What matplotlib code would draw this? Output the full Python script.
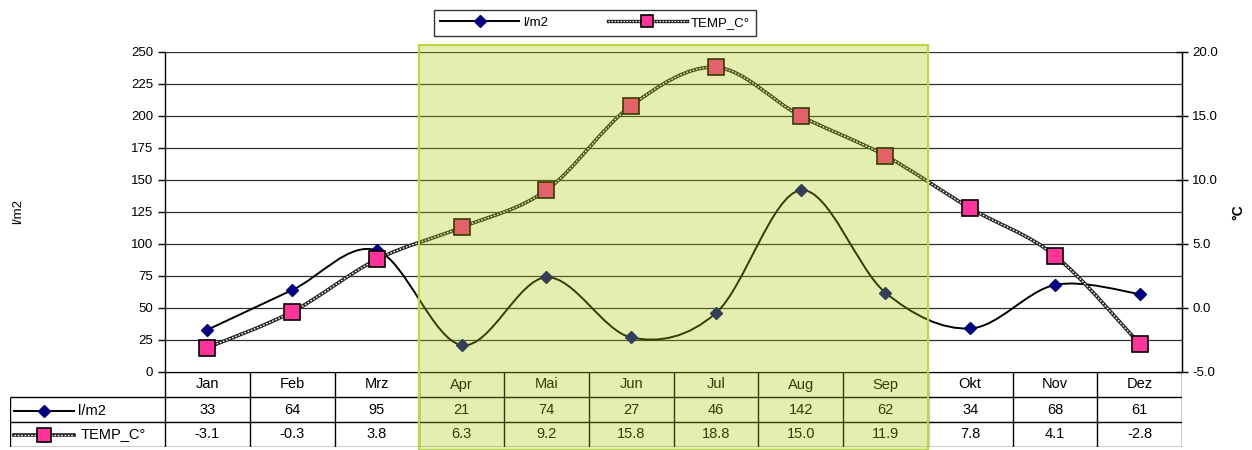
import numpy as np
import matplotlib.pyplot as plt
from matplotlib.path import Path
from matplotlib.patches import PathPatch, Rectangle
from matplotlib.lines import Line2D
from matplotlib.transforms import blended_transform_factory

plt.rcParams['font.family'] = ['Liberation Sans', 'DejaVu Sans']

## Data
months = ['Jan', 'Feb', 'Mrz', 'Apr', 'Mai', 'Jun', 'Jul', 'Aug', 'Sep', 'Okt', 'Nov', 'Dez']
rain = [33, 64, 95, 21, 74, 27, 46, 142, 62, 34, 68, 61]
temp = [-3.1, -0.3, 3.8, 6.3, 9.2, 15.8, 18.8, 15.0, 11.9, 7.8, 4.1, -2.8]
summer = (3, 8)   # Apr .. Sep highlighted

W, H = 1252, 450


def smooth_path(x, y):
    # Excel style smoothed line: cubic bezier with catmull-rom control points
    p = np.column_stack([x, y]).astype(float)
    ext = np.vstack([p[0], p, p[-1]])
    verts = [p[0]]
    codes = [Path.MOVETO]
    for i in range(len(p) - 1):
        a, b, c, d = ext[i], ext[i + 1], ext[i + 2], ext[i + 3]
        verts += [b + (c - a) / 6, c - (d - b) / 6, c]
        codes += [Path.CURVE4] * 3
    return Path(verts, codes)


fig = plt.figure(figsize=(W / 100, H / 100), dpi=100)
ax = fig.add_axes([165 / W, (H - 372) / H, 1017 / W, 320 / H])
ax2 = ax.twinx()

x = np.arange(len(months))

## Axes setup
ax.set_xlim(-0.5, 11.5)
ax.set_ylim(0, 250)
ax.set_yticks(np.arange(0, 251, 25))
ax.set_xticks([])
ax.tick_params(axis='y', direction='out', length=5, labelsize=9.5, width=1)
ax.yaxis.grid(True, color='#303030', lw=0.9)
ax.set_axisbelow(True)
for s in ['top', 'bottom']:
    ax.spines[s].set_visible(False)
ax.spines['left'].set_linewidth(1)

ax2.set_ylim(-5, 20)
ax2.set_yticks(np.arange(-5, 21, 5))
ax2.set_yticklabels([f'{v:.1f}' for v in np.arange(-5, 21, 5)])
ax2.tick_params(axis='y', direction='inout', length=8, labelsize=9.5, width=1)
for s in ['top', 'bottom', 'left']:
    ax2.spines[s].set_visible(False)
ax2.spines['right'].set_linewidth(1)

## Lines
ax.add_patch(PathPatch(smooth_path(x, rain), fill=False, ec='black', lw=1.4, zorder=3))
ax.plot(x, rain, ls='none', marker='D', ms=6, color='#000080', zorder=4)

tp = smooth_path(x, temp)
ax2.add_patch(PathPatch(tp, fill=False, ec='#202020', lw=2.6, zorder=3))
ax2.add_patch(PathPatch(tp, fill=False, ec='white', lw=1.0, ls=(0, (1.2, 1.2)), zorder=3.1))
ax2.plot(x, temp, ls='none', marker='s', ms=11, mfc='#FF3399', mec='black', mew=1.2, zorder=4)

fig.text(18 / W, 1 - 212 / H, 'l/m2', rotation=90, va='center', ha='center', fontsize=9.5)
fig.text(1238 / W, 1 - 212 / H, '°C', rotation=90, va='center', ha='center', fontsize=10, fontweight='bold')

## Data table below the plot
colw = 1017 / 12
lab_left = -0.5 - 155 / colw
tax = fig.add_axes([10 / W, (H - 447) / H, 1172 / W, 75 / H])
tax.set_xlim(lab_left, 11.5)
tax.set_ylim(3, 0)
tax.axis('off')

lc = dict(color='black', lw=1, solid_capstyle='butt')
tax.plot([-0.5, 11.5], [0, 0], **lc)
for r in [1, 2, 3]:
    tax.plot([lab_left, 11.5], [r, r], **lc)
for k in range(13):
    tax.plot([k - 0.5, k - 0.5], [0, 3], **lc)
tax.plot([lab_left, lab_left], [1, 3], **lc)

for i, m in enumerate(months):
    tax.text(i, 0.5, m, ha='center', va='center', fontsize=10.5)
    tax.text(i, 1.5, f'{rain[i]}', ha='center', va='center', fontsize=10.5)
    tax.text(i, 2.5, f'{temp[i]:.1f}', ha='center', va='center', fontsize=10.5)

# legend keys inside the table
kx0, kx1 = lab_left + 0.05, lab_left + 0.75
kx = (kx0 + kx1) / 2
tax.plot([kx0, kx1], [1.55, 1.55], color='black', lw=1.4)
tax.plot([kx], [1.55], marker='D', ms=6, color='#000080')
tax.text(kx1 + 0.05, 1.55, 'l/m2', va='center', fontsize=10.5)
tax.plot([kx0, kx1], [2.5, 2.5], color='#202020', lw=2.6)
tax.plot([kx0, kx1], [2.5, 2.5], color='white', lw=1.0, ls=(0, (1.2, 1.2)))
tax.plot([kx], [2.5], marker='s', ms=10, mfc='#FF3399', mec='black', mew=1.2)
tax.text(kx1 + 0.08, 2.5, 'TEMP_C°', va='center', fontsize=10.5)

## Highlighted summer months (overlay over plot and table)
trans = blended_transform_factory(ax.transData, fig.transFigure)
fig.add_artist(Rectangle((summer[0] - 0.5, 0), summer[1] - summer[0] + 1, 1 - 45 / H,
                         transform=trans, fc='#a5cb00', alpha=0.31, ec='none', zorder=10))
fig.add_artist(Rectangle((summer[0] - 0.5, 0), summer[1] - summer[0] + 1, 1 - 45 / H,
                         transform=trans, fc='none', ec='#b8d93a', lw=1.5, zorder=11))

## Legend
h1 = Line2D([], [], color='black', lw=1.4, marker='D', ms=6, mfc='#000080', mec='#000080')
h2a = Line2D([], [], color='#202020', lw=2.4)
h2b = Line2D([], [], color='white', lw=0.9, ls=(0, (1.2, 1.2)))
h2c = Line2D([], [], ls='none', marker='s', ms=9, mfc='#FF3399', mec='black', mew=1.2)
leg = fig.legend([h1, (h2a, h2b, h2c)], ['l/m2', 'TEMP_C°'], loc='center',
                 bbox_to_anchor=(595 / W, 1 - 23 / H), ncol=2, fontsize=9.5,
                 frameon=True, fancybox=False, handlelength=6, columnspacing=4.5,
                 borderpad=0.5, handletextpad=0.3, borderaxespad=0)
leg.get_frame().set_edgecolor('black')
leg.get_frame().set_linewidth(1)

fig.savefig('out.png', dpi=100)
